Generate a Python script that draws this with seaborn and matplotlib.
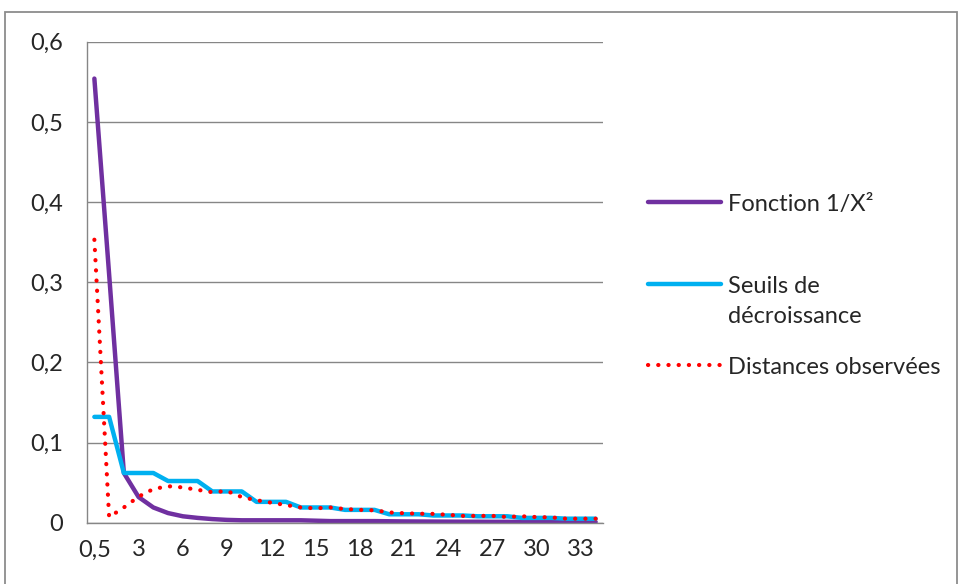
import matplotlib
matplotlib.use("Agg")
import matplotlib.pyplot as plt
import seaborn as sns
import pandas as pd
import numpy as np
from matplotlib.patches import Rectangle

categories = ["0,5"] + [str(i) for i in range(1, 35)]

fonction = [0.554, 0.31, 0.062, 0.032, 0.019, 0.012, 0.008, 0.006, 0.0045, 0.0035,
            0.003, 0.003, 0.003, 0.003, 0.003, 0.0025, 0.002, 0.002, 0.002, 0.002,
            0.0018, 0.0016, 0.0015, 0.0014, 0.0013, 0.0012, 0.0012, 0.0011, 0.0011, 0.001,
            0.001, 0.001, 0.001, 0.001, 0.001]

seuils = [0.132, 0.132, 0.062, 0.062, 0.062, 0.052, 0.052, 0.052, 0.039, 0.039,
          0.039, 0.026, 0.026, 0.026, 0.019, 0.019, 0.019, 0.016, 0.016, 0.016,
          0.0105, 0.0105, 0.0105, 0.009, 0.009, 0.009, 0.008, 0.008, 0.008, 0.006,
          0.006, 0.006, 0.005, 0.005, 0.005]

distances = [0.353, 0.007, 0.019, 0.0325, 0.042, 0.0455, 0.044, 0.041, 0.038, 0.0395,
             0.032, 0.028, 0.025, 0.022, 0.019, 0.018, 0.019, 0.017, 0.016, 0.0155,
             0.0128, 0.0118, 0.0112, 0.011, 0.0098, 0.0085, 0.0085, 0.0085, 0.0072, 0.008,
             0.007, 0.0066, 0.005, 0.005, 0.005]

series_names = ["Fonction 1/X²", "Seuils de", "Distances observées"]
seuils_second_line = "décroissance"

sns.set_style("white")
plt.rcParams["font.family"] = ["Lato", "DejaVu Sans"]

FS = 17
TXT = "#262626"
W, H = 962, 584
fig = plt.figure(figsize=(W / 100, H / 100), dpi=100)
fig.patch.set_facecolor("white")

# outer chart border
fig.patches.append(Rectangle((5 / W, -0.1), (957 - 5) / W, (584 - 12) / H + 0.1,
                             transform=fig.transFigure, fill=False,
                             edgecolor="#8c8c8c", linewidth=1.3))

ax = fig.add_axes([87 / W, (H - 522.7) / H, 516 / W, (522.7 - 41.7) / H])

pos = np.arange(len(categories))
df = pd.DataFrame({"pos": pos, "f": fonction, "s": seuils, "d": distances})

sns.lineplot(data=df, x="pos", y="f", ax=ax, color="#7030A0", linewidth=3.2,
             solid_capstyle="round", label=series_names[0])
sns.lineplot(data=df, x="pos", y="s", ax=ax, color="#00B0F0", linewidth=3.2,
             solid_capstyle="round", label=series_names[1])
sns.lineplot(data=df, x="pos", y="d", ax=ax, color="#FF0000", linewidth=3.0,
             linestyle=(0, (0.05, 2.4)), dash_capstyle="round", label=series_names[2])
ax.get_legend().remove()

ax.set_xlim(-0.5, len(categories) - 0.5)
ax.set_ylim(0, 0.6)
ax.set_xlabel("")
ax.set_ylabel("")

yt = [0, 0.1, 0.2, 0.3, 0.4, 0.5, 0.6]
ax.set_yticks(yt)
ax.set_yticklabels([("%g" % v).replace(".", ",") for v in yt])
ax.yaxis.grid(True, color="#868686", linewidth=1.0)
ax.set_axisbelow(True)

ax.set_xticks(np.arange(-0.5, len(categories), 1.0))
ax.set_xticklabels([])
ax.set_xticks(pos[::3], minor=True)
ax.set_xticklabels([categories[i] for i in pos[::3]], minor=True)
ax.tick_params(axis="x", which="major", length=6, width=1, color="#868686", direction="out")
ax.tick_params(axis="x", which="minor", length=0, pad=12, labelsize=FS, labelcolor=TXT)
ax.tick_params(axis="y", length=8, width=1, color="#868686", direction="out",
               pad=9, labelsize=FS, labelcolor=TXT)

for s in ["top", "right"]:
    ax.spines[s].set_visible(False)
for s in ["left", "bottom"]:
    ax.spines[s].set_color("#868686")
    ax.spines[s].set_linewidth(1.0)

lines = ax.get_lines()
legend_y = [204, 286, 367]
for ln, name, yy in zip(lines, series_names, legend_y):
    fig.legend([ln], [name], loc="center left",
               bbox_to_anchor=(648 / W, 1 - yy / H), frameon=False,
               fontsize=FS, handlelength=3.1, handletextpad=0.3,
               borderpad=0, borderaxespad=0, labelcolor=TXT)
fig.text(728 / W, 1 - 316 / H, seuils_second_line, fontsize=FS, color=TXT,
         ha="left", va="center")

fig.savefig("out.png", dpi=100, facecolor="white")
